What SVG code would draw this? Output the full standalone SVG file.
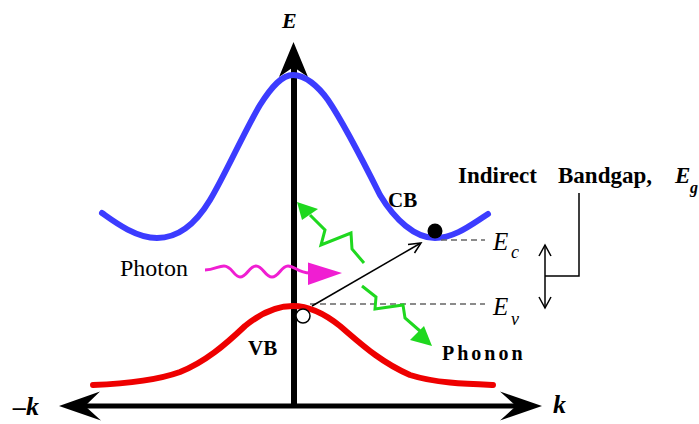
<svg xmlns="http://www.w3.org/2000/svg" width="699" height="424" viewBox="0 0 699 424">
<style>
.t{font-family:"Liberation Serif","Times New Roman",serif;fill:#000}
.b{font-weight:bold}
.i{font-style:italic}
.band{fill:none;stroke-width:6;stroke-linecap:round;stroke-linejoin:round}
.green{fill:none;stroke:#1fd81f;stroke-width:3;stroke-linejoin:miter}
.dash{stroke:#666;stroke-width:1.3;stroke-dasharray:6,4;fill:none}
.thin{stroke:#000;stroke-width:1.5;fill:none}
</style>
<rect width="699" height="424" fill="#fff"/>
<g id="axes">
  <line x1="294" y1="406" x2="294" y2="66" stroke="#000" stroke-width="6"/>
  <path d="M293.5,42 L308,77 L293.5,67 L279,77 Z" fill="#000"/>
  <line x1="82" y1="406" x2="520" y2="406" stroke="#000" stroke-width="5"/>
  <path d="M59,406 L100,391.5 L85,406 L101,420.5 Z" fill="#000"/>
  <path d="M542,406 L500,391.5 L516,406 L500,420.5 Z" fill="#000"/>
  <text class="t b i" x="282" y="28" font-size="22">E</text>
  <text class="t b i" x="13" y="415" font-size="26">–k</text>
  <text class="t b i" x="553" y="413" font-size="26">k</text>
</g>
<g id="conduction-band">
  <path class="band" stroke="#3c3cff" d="M102,213 C112,220 135,238 157,238 C178,238 195,225 210,200 C225,175 245,130 260,105 C272,86 282,75 293,75 C305,75 318,86 328,100 C345,125 365,165 380,195 C395,220 415,238 435,238 C455,238 472,224 488,214"/>
  <text class="t b" x="388" y="207" font-size="21">CB</text>
  <circle cx="435" cy="231" r="7.5" fill="#000"/>
</g>
<g id="valence-band">
  <path class="band" stroke="#ee0000" d="M93,385 C120,384 155,381 180,372 C205,362 225,345 245,326 C262,312 278,306 293,306 C310,306 325,314 340,326 C360,343 380,362 410,375 C435,383 465,384 493,385"/>
  <text class="t b" x="248" y="355" font-size="21">VB</text>
  <circle cx="303" cy="316" r="7" fill="#fff" stroke="#000" stroke-width="1.5"/>
</g>
<g id="levels">
  <line class="dash" x1="441" y1="240" x2="485" y2="240"/>
  <line class="dash" x1="310" y1="304" x2="485" y2="304"/>
  <text class="t i" x="493" y="250" font-size="25">E</text>
  <text class="t i" x="511" y="258" font-size="18">c</text>
  <text class="t i" x="493" y="315" font-size="25">E</text>
  <text class="t i" x="511" y="325" font-size="18">v</text>
</g>
<g id="bandgap">
  <line class="thin" x1="545" y1="246" x2="545" y2="307"/>
  <path class="thin" d="M539,256 L545,245 L551,256 M539,297 L545,308 L551,297"/>
  <path class="thin" stroke-width="1.3" d="M545,276 L579,276 L579,193"/>
  <text class="t b" x="458" y="183" font-size="23">Indirect</text>
  <text class="t b" x="558" y="183" font-size="23">Bandgap,</text>
  <text class="t b i" x="675" y="183" font-size="23">E</text>
  <text class="t b i" x="690" y="193" font-size="16">g</text>
</g>
<g id="photon">
  <text class="t" x="120" y="276" font-size="24">Photon</text>
  <path fill="none" stroke="#f01ed2" stroke-width="3" d="M205,270 C214,270 218,266 224,266 C232,266 234,277 240,277 C247,277 249,266 256,266 C263,266 265,277 272,277 C279,277 281,266 288,266 C295,266 298,273 310,273"/>
  <path d="M308,262.5 L342,273 L308,285 Z" fill="#f01ed2"/>
</g>
<g id="phonon">
  <path class="green" d="M364,263 L352,249 L351,233 L321,245 L325,230 L310,215"/>
  <path d="M297,202 L302,220 L318,209 Z" fill="#1fd81f"/>
  <path class="green" d="M362,286 L376,297 L375,309 L403,305 L405,318 L420,331"/>
  <path d="M432,346 L410,340 L424,326 Z" fill="#1fd81f"/>
  <text class="t b" x="442" y="360" font-size="20" letter-spacing="3">Phonon</text>
</g>
<g id="connectors">
  <line class="thin" stroke-width="1.4" x1="312" y1="306" x2="420" y2="243.5"/>
  <path class="thin" stroke-width="1.4" d="M408,244.5 L421,243 L414.5,253"/>
</g>
</svg>
